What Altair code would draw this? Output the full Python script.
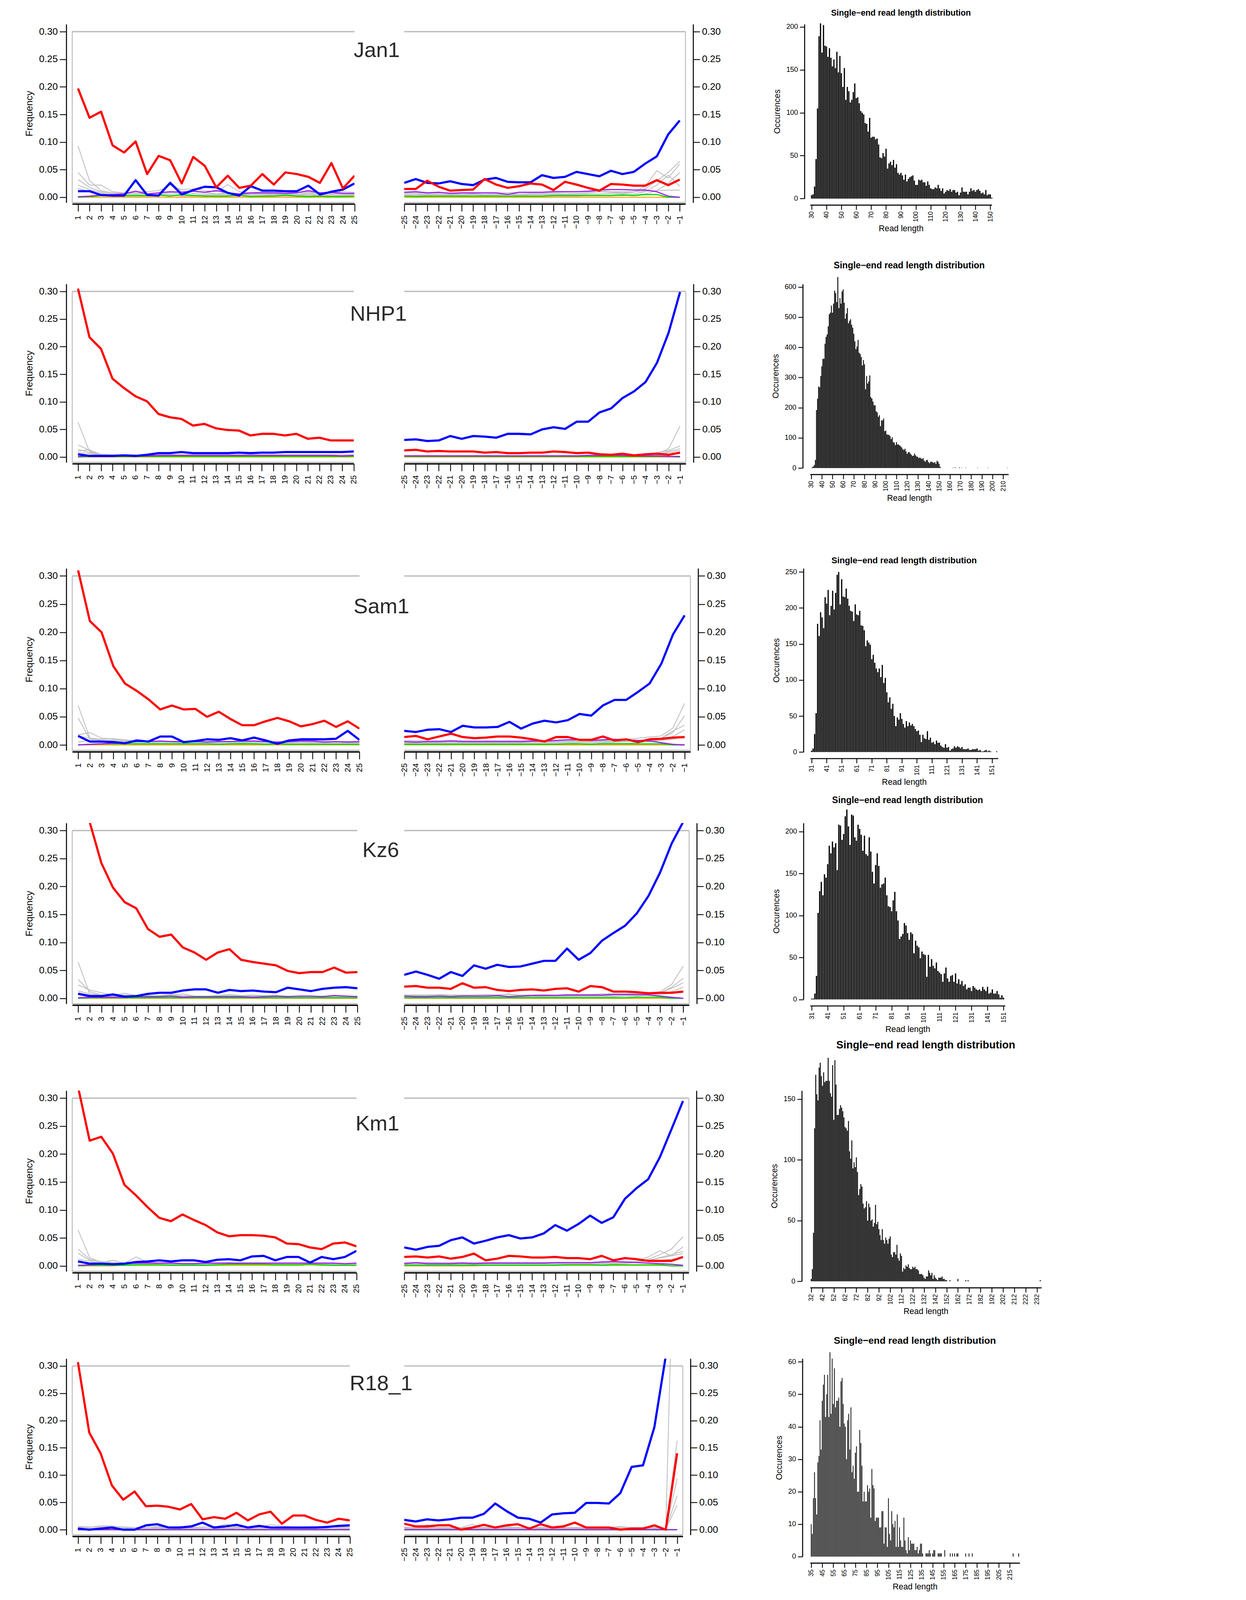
import altair as alt
import pandas as pd

FONT = "Liberation Sans"
RED, BLUE, PURPLE, GREEN, ORANGE, GREY = "#FF0000", "#0000FF", "#A020F0", "#00DD00", "#FFA500", "#BEBEBE"

SAMPLES = ["Jan1", "NHP1", "Sam1", "Kz6", "Km1", "R18_1"]
POS_5P = [1, 2, 3, 4, 5, 6, 7, 8, 9, 10, 11, 12, 13, 14, 15, 16, 17, 18, 19, 20, 21, 22, 23, 24, 25]
POS_3P = [-25, -24, -23, -22, -21, -20, -19, -18, -17, -16, -15, -14, -13, -12, -11, -10, -9, -8, -7, -6, -5, -4, -3, -2, -1]
FREQ_TICKS = [0.0, 0.05, 0.10, 0.15, 0.20, 0.25, 0.30]
HIST_TITLE = "Single\u2212end read length distribution"

ZERO25 = [0.000, 0.000, 0.000, 0.000, 0.000, 0.000, 0.000, 0.000, 0.000, 0.000, 0.000, 0.000, 0.000,
          0.000, 0.000, 0.000, 0.000, 0.000, 0.000, 0.000, 0.000, 0.000, 0.000, 0.000, 0.000]

# ---------------- Jan1 ----------------
JAN1_5P_RED = [0.197, 0.144, 0.155, 0.094, 0.081, 0.101, 0.042, 0.075, 0.067, 0.025, 0.073, 0.057, 0.018,
               0.039, 0.017, 0.021, 0.042, 0.023, 0.045, 0.042, 0.037, 0.026, 0.062, 0.016, 0.039]
JAN1_5P_BLUE = [0.011, 0.011, 0.004, 0.003, 0.003, 0.031, 0.004, 0.003, 0.026, 0.005, 0.013, 0.019, 0.018,
                0.008, 0.003, 0.020, 0.012, 0.012, 0.011, 0.011, 0.021, 0.005, 0.010, 0.014, 0.025]
JAN1_5P_PURPLE = [0.001, 0.002, 0.004, 0.005, 0.006, 0.011, 0.006, 0.008, 0.010, 0.009, 0.011, 0.009, 0.012,
                  0.008, 0.006, 0.008, 0.008, 0.008, 0.007, 0.008, 0.012, 0.008, 0.009, 0.007, 0.007]
JAN1_5P_GREEN = [0.000, 0.001, 0.003, 0.003, 0.003, 0.003, 0.003, 0.004, 0.002, 0.005, 0.003, 0.002, 0.002,
                 0.002, 0.004, 0.001, 0.002, 0.002, 0.004, 0.002, 0.001, 0.002, 0.001, 0.001, 0.002]
JAN1_5P_GREY = [
    [0.093, 0.030, 0.012, 0.008, 0.007, 0.008, 0.006, 0.007, 0.028, 0.010, 0.012, 0.009, 0.006,
     0.008, 0.005, 0.006, 0.007, 0.006, 0.006, 0.005, 0.008, 0.006, 0.007, 0.006, 0.006],
    [0.045, 0.022, 0.022, 0.010, 0.008, 0.010, 0.010, 0.012, 0.022, 0.014, 0.015, 0.012, 0.010,
     0.023, 0.010, 0.008, 0.010, 0.009, 0.010, 0.008, 0.010, 0.007, 0.009, 0.010, 0.009],
    [0.032, 0.018, 0.010, 0.006, 0.005, 0.006, 0.006, 0.005, 0.008, 0.006, 0.007, 0.006, 0.005,
     0.006, 0.004, 0.005, 0.005, 0.005, 0.004, 0.004, 0.006, 0.004, 0.005, 0.004, 0.005],
    [0.022, 0.014, 0.008, 0.004, 0.003, 0.004, 0.004, 0.004, 0.005, 0.003, 0.004, 0.004, 0.003,
     0.004, 0.003, 0.003, 0.003, 0.004, 0.003, 0.003, 0.004, 0.003, 0.003, 0.003, 0.003],
    [0.016, 0.010, 0.006, 0.003, 0.002, 0.002, 0.002, 0.003, 0.003, 0.002, 0.002, 0.003, 0.002,
     0.002, 0.002, 0.002, 0.002, 0.002, 0.002, 0.002, 0.002, 0.002, 0.002, 0.002, 0.002],
]
JAN1_3P_RED = [0.015, 0.015, 0.030, 0.019, 0.012, 0.013, 0.014, 0.033, 0.023, 0.017, 0.020, 0.025, 0.023,
               0.013, 0.028, 0.023, 0.017, 0.012, 0.024, 0.023, 0.021, 0.021, 0.031, 0.022, 0.032]
JAN1_3P_BLUE = [0.026, 0.033, 0.026, 0.025, 0.029, 0.024, 0.022, 0.032, 0.035, 0.028, 0.027, 0.027, 0.040,
                0.035, 0.037, 0.046, 0.042, 0.038, 0.048, 0.042, 0.046, 0.061, 0.074, 0.114, 0.139]
JAN1_3P_PURPLE = [0.009, 0.010, 0.008, 0.009, 0.007, 0.008, 0.008, 0.008, 0.008, 0.005, 0.009, 0.009, 0.009,
                  0.010, 0.010, 0.010, 0.011, 0.013, 0.014, 0.014, 0.013, 0.013, 0.010, 0.002, 0.000]
JAN1_3P_GREEN = [0.002, 0.001, 0.002, 0.002, 0.002, 0.002, 0.002, 0.002, 0.002, 0.002, 0.002, 0.002, 0.002,
                 0.003, 0.003, 0.003, 0.003, 0.003, 0.003, 0.004, 0.003, 0.005, 0.005, 0.000, 0.000]
JAN1_3P_GREY = [
    [0.006, 0.006, 0.005, 0.006, 0.005, 0.006, 0.006, 0.005, 0.006, 0.006, 0.006, 0.006, 0.007,
     0.007, 0.006, 0.007, 0.008, 0.010, 0.009, 0.008, 0.010, 0.015, 0.030, 0.045, 0.065],
    [0.004, 0.004, 0.004, 0.004, 0.004, 0.004, 0.005, 0.004, 0.004, 0.005, 0.004, 0.005, 0.005,
     0.005, 0.005, 0.005, 0.006, 0.006, 0.007, 0.007, 0.009, 0.020, 0.048, 0.035, 0.060],
    [0.003, 0.003, 0.003, 0.003, 0.003, 0.003, 0.003, 0.003, 0.003, 0.003, 0.003, 0.003, 0.003,
     0.004, 0.003, 0.004, 0.004, 0.004, 0.004, 0.005, 0.006, 0.010, 0.022, 0.040, 0.020],
    [0.008, 0.008, 0.007, 0.008, 0.008, 0.008, 0.007, 0.008, 0.008, 0.008, 0.009, 0.008, 0.009,
     0.009, 0.009, 0.010, 0.010, 0.011, 0.010, 0.010, 0.010, 0.011, 0.012, 0.013, 0.013],
    [0.002, 0.002, 0.002, 0.002, 0.002, 0.002, 0.002, 0.002, 0.002, 0.002, 0.002, 0.002, 0.002,
     0.002, 0.002, 0.002, 0.003, 0.003, 0.003, 0.003, 0.004, 0.006, 0.012, 0.025, 0.045],
]

# ---------------- NHP1 ----------------
NHP1_5P_RED = [0.305, 0.217, 0.196, 0.142, 0.125, 0.110, 0.101, 0.078, 0.072, 0.069, 0.057, 0.060, 0.052,
               0.049, 0.048, 0.039, 0.042, 0.042, 0.039, 0.042, 0.033, 0.035, 0.030, 0.030, 0.030]
NHP1_5P_BLUE = [0.005, 0.002, 0.002, 0.002, 0.003, 0.002, 0.004, 0.007, 0.007, 0.009, 0.007, 0.007, 0.007,
                0.007, 0.008, 0.007, 0.008, 0.008, 0.009, 0.009, 0.009, 0.009, 0.009, 0.009, 0.010]
NHP1_5P_PURPLE = [0.001, 0.002, 0.002, 0.002, 0.002, 0.002, 0.002, 0.003, 0.003, 0.003, 0.003, 0.003, 0.003,
                  0.003, 0.003, 0.003, 0.003, 0.003, 0.003, 0.003, 0.003, 0.003, 0.003, 0.002, 0.003]
NHP1_5P_GREEN = [0.000, 0.001, 0.001, 0.001, 0.001, 0.001, 0.001, 0.001, 0.001, 0.001, 0.001, 0.001, 0.001,
                 0.001, 0.001, 0.001, 0.001, 0.001, 0.001, 0.001, 0.001, 0.001, 0.001, 0.001, 0.001]
NHP1_5P_GREY = [
    [0.063, 0.010, 0.004, 0.003, 0.003, 0.003, 0.003, 0.003, 0.003, 0.003, 0.003, 0.003, 0.003,
     0.003, 0.003, 0.003, 0.003, 0.003, 0.003, 0.003, 0.003, 0.003, 0.003, 0.003, 0.003],
    [0.022, 0.012, 0.005, 0.004, 0.004, 0.004, 0.003, 0.004, 0.004, 0.004, 0.004, 0.004, 0.004,
     0.004, 0.004, 0.004, 0.004, 0.004, 0.004, 0.004, 0.004, 0.004, 0.004, 0.004, 0.004],
    [0.014, 0.008, 0.004, 0.003, 0.003, 0.003, 0.003, 0.003, 0.003, 0.003, 0.003, 0.003, 0.003,
     0.003, 0.003, 0.003, 0.003, 0.003, 0.003, 0.003, 0.003, 0.003, 0.003, 0.003, 0.003],
    [0.011, 0.013, 0.004, 0.002, 0.002, 0.002, 0.002, 0.002, 0.002, 0.002, 0.002, 0.002, 0.002,
     0.002, 0.002, 0.002, 0.002, 0.002, 0.002, 0.002, 0.002, 0.002, 0.002, 0.002, 0.002],
    [0.008, 0.006, 0.003, 0.002, 0.002, 0.002, 0.002, 0.002, 0.002, 0.002, 0.002, 0.002, 0.002,
     0.002, 0.002, 0.002, 0.002, 0.002, 0.002, 0.002, 0.002, 0.002, 0.002, 0.002, 0.002],
]
NHP1_3P_RED = [0.012, 0.013, 0.010, 0.011, 0.010, 0.010, 0.010, 0.008, 0.009, 0.007, 0.007, 0.008, 0.008,
               0.010, 0.009, 0.007, 0.008, 0.005, 0.004, 0.006, 0.003, 0.005, 0.006, 0.004, 0.008]
NHP1_3P_BLUE = [0.031, 0.032, 0.029, 0.030, 0.038, 0.033, 0.038, 0.037, 0.035, 0.042, 0.042, 0.041, 0.050,
                0.054, 0.051, 0.064, 0.064, 0.081, 0.088, 0.107, 0.119, 0.136, 0.171, 0.225, 0.299]
NHP1_3P_PURPLE = [0.002, 0.002, 0.002, 0.002, 0.002, 0.002, 0.002, 0.002, 0.002, 0.002, 0.002, 0.002, 0.002,
                  0.002, 0.002, 0.002, 0.003, 0.003, 0.003, 0.003, 0.002, 0.002, 0.002, 0.001, 0.001]
NHP1_3P_GREEN = [0.001, 0.001, 0.001, 0.001, 0.001, 0.001, 0.001, 0.001, 0.001, 0.001, 0.001, 0.001, 0.001,
                 0.001, 0.001, 0.001, 0.001, 0.001, 0.001, 0.001, 0.001, 0.001, 0.001, 0.001, 0.000]
NHP1_3P_GREY = [
    [0.003, 0.003, 0.003, 0.003, 0.003, 0.003, 0.003, 0.003, 0.003, 0.003, 0.003, 0.003, 0.003,
     0.003, 0.003, 0.003, 0.003, 0.003, 0.003, 0.003, 0.003, 0.004, 0.006, 0.015, 0.056],
    [0.002, 0.002, 0.002, 0.002, 0.002, 0.002, 0.002, 0.002, 0.002, 0.002, 0.002, 0.002, 0.002,
     0.002, 0.002, 0.002, 0.002, 0.002, 0.002, 0.002, 0.002, 0.004, 0.008, 0.012, 0.020],
    [0.003, 0.003, 0.003, 0.003, 0.003, 0.003, 0.003, 0.003, 0.003, 0.003, 0.003, 0.003, 0.003,
     0.003, 0.003, 0.003, 0.003, 0.003, 0.003, 0.003, 0.003, 0.004, 0.005, 0.010, 0.015],
    [0.002, 0.002, 0.002, 0.002, 0.002, 0.002, 0.002, 0.002, 0.002, 0.002, 0.002, 0.002, 0.002,
     0.002, 0.002, 0.002, 0.002, 0.002, 0.002, 0.002, 0.002, 0.003, 0.004, 0.008, 0.012],
    [0.001, 0.001, 0.001, 0.001, 0.001, 0.001, 0.001, 0.001, 0.001, 0.001, 0.001, 0.001, 0.001,
     0.001, 0.001, 0.001, 0.001, 0.001, 0.001, 0.001, 0.001, 0.002, 0.003, 0.005, 0.008],
]

# ---------------- Sam1 ----------------
SAM1_5P_RED = [0.310, 0.220, 0.200, 0.140, 0.109, 0.096, 0.081, 0.063, 0.070, 0.063, 0.064, 0.050, 0.059,
               0.046, 0.035, 0.035, 0.042, 0.048, 0.042, 0.033, 0.037, 0.043, 0.032, 0.042, 0.029]
SAM1_5P_BLUE = [0.016, 0.006, 0.006, 0.005, 0.003, 0.008, 0.006, 0.015, 0.015, 0.005, 0.007, 0.010, 0.009,
                0.012, 0.008, 0.013, 0.008, 0.002, 0.008, 0.010, 0.010, 0.010, 0.011, 0.025, 0.009]
SAM1_5P_PURPLE = [0.000, 0.001, 0.002, 0.003, 0.004, 0.006, 0.006, 0.007, 0.006, 0.006, 0.006, 0.005, 0.006,
                  0.006, 0.007, 0.007, 0.006, 0.005, 0.006, 0.007, 0.007, 0.005, 0.006, 0.005, 0.006]
SAM1_5P_GREEN = [0.000, 0.001, 0.002, 0.002, 0.002, 0.002, 0.002, 0.002, 0.002, 0.002, 0.002, 0.002, 0.001,
                 0.002, 0.002, 0.002, 0.001, 0.002, 0.001, 0.001, 0.001, 0.001, 0.001, 0.001, 0.001]
SAM1_5P_GREY = [
    [0.070, 0.012, 0.008, 0.008, 0.006, 0.006, 0.005, 0.005, 0.005, 0.004, 0.005, 0.005, 0.005,
     0.005, 0.004, 0.005, 0.005, 0.004, 0.004, 0.005, 0.004, 0.004, 0.005, 0.004, 0.004],
    [0.048, 0.010, 0.008, 0.007, 0.006, 0.005, 0.006, 0.006, 0.005, 0.006, 0.005, 0.006, 0.005,
     0.005, 0.006, 0.005, 0.005, 0.005, 0.005, 0.005, 0.005, 0.006, 0.005, 0.005, 0.005],
    [0.018, 0.022, 0.012, 0.010, 0.008, 0.006, 0.006, 0.006, 0.006, 0.005, 0.006, 0.006, 0.005,
     0.006, 0.005, 0.006, 0.005, 0.005, 0.006, 0.005, 0.006, 0.005, 0.006, 0.005, 0.005],
    [0.016, 0.012, 0.010, 0.011, 0.009, 0.007, 0.007, 0.006, 0.006, 0.006, 0.007, 0.006, 0.006,
     0.006, 0.006, 0.006, 0.006, 0.005, 0.006, 0.006, 0.006, 0.006, 0.006, 0.006, 0.006],
    [0.005, 0.008, 0.006, 0.004, 0.003, 0.003, 0.003, 0.003, 0.003, 0.003, 0.003, 0.003, 0.003,
     0.003, 0.003, 0.003, 0.003, 0.003, 0.003, 0.003, 0.003, 0.003, 0.003, 0.003, 0.003],
]
SAM1_3P_RED = [0.014, 0.016, 0.010, 0.015, 0.020, 0.014, 0.012, 0.013, 0.015, 0.015, 0.013, 0.010, 0.006,
               0.014, 0.014, 0.009, 0.009, 0.015, 0.008, 0.010, 0.005, 0.010, 0.011, 0.013, 0.014]
SAM1_3P_BLUE = [0.025, 0.023, 0.027, 0.028, 0.023, 0.034, 0.031, 0.031, 0.032, 0.041, 0.029, 0.038, 0.043,
                0.040, 0.044, 0.055, 0.052, 0.070, 0.080, 0.080, 0.094, 0.109, 0.144, 0.196, 0.230]
SAM1_3P_PURPLE = [0.006, 0.005, 0.006, 0.006, 0.007, 0.006, 0.006, 0.006, 0.006, 0.006, 0.006, 0.007, 0.007,
                  0.008, 0.009, 0.009, 0.008, 0.009, 0.010, 0.009, 0.008, 0.007, 0.004, 0.001, 0.000]
SAM1_3P_GREEN = [0.001, 0.001, 0.001, 0.001, 0.001, 0.001, 0.001, 0.001, 0.001, 0.001, 0.001, 0.001, 0.001,
                 0.001, 0.002, 0.002, 0.001, 0.002, 0.002, 0.002, 0.002, 0.002, 0.002, 0.000, 0.000]
SAM1_3P_GREY = [
    [0.004, 0.004, 0.004, 0.004, 0.004, 0.004, 0.004, 0.004, 0.004, 0.004, 0.004, 0.005, 0.005,
     0.005, 0.005, 0.006, 0.006, 0.007, 0.008, 0.010, 0.012, 0.014, 0.016, 0.030, 0.074],
    [0.003, 0.003, 0.003, 0.003, 0.003, 0.003, 0.003, 0.003, 0.003, 0.003, 0.003, 0.003, 0.003,
     0.003, 0.003, 0.004, 0.004, 0.004, 0.005, 0.006, 0.008, 0.010, 0.012, 0.022, 0.052],
    [0.006, 0.006, 0.006, 0.006, 0.006, 0.006, 0.006, 0.006, 0.006, 0.006, 0.006, 0.006, 0.006,
     0.006, 0.006, 0.006, 0.006, 0.006, 0.006, 0.007, 0.008, 0.010, 0.012, 0.025, 0.035],
    [0.002, 0.002, 0.002, 0.002, 0.002, 0.002, 0.002, 0.002, 0.002, 0.002, 0.002, 0.002, 0.002,
     0.002, 0.002, 0.002, 0.002, 0.003, 0.003, 0.003, 0.004, 0.006, 0.008, 0.015, 0.027],
    [0.008, 0.008, 0.008, 0.008, 0.008, 0.008, 0.008, 0.008, 0.008, 0.008, 0.008, 0.008, 0.008,
     0.008, 0.008, 0.008, 0.008, 0.008, 0.008, 0.008, 0.008, 0.008, 0.008, 0.010, 0.015],
]

# ---------------- Kz6 ----------------
KZ6_5P_RED = [0.380, 0.315, 0.242, 0.198, 0.172, 0.161, 0.124, 0.110, 0.114, 0.091, 0.082, 0.069, 0.082,
              0.088, 0.069, 0.065, 0.062, 0.059, 0.049, 0.045, 0.047, 0.047, 0.055, 0.046, 0.047]
KZ6_5P_BLUE = [0.008, 0.004, 0.004, 0.007, 0.003, 0.004, 0.008, 0.010, 0.010, 0.014, 0.016, 0.016, 0.010,
               0.015, 0.013, 0.014, 0.012, 0.011, 0.019, 0.016, 0.013, 0.017, 0.019, 0.020, 0.018]
KZ6_5P_PURPLE = [0.001, 0.002, 0.002, 0.002, 0.002, 0.003, 0.003, 0.003, 0.004, 0.002, 0.003, 0.003, 0.003,
                 0.003, 0.003, 0.002, 0.003, 0.004, 0.003, 0.004, 0.004, 0.003, 0.005, 0.004, 0.003]
KZ6_5P_GREEN = [0.000, 0.001, 0.001, 0.001, 0.001, 0.001, 0.001, 0.001, 0.001, 0.001, 0.001, 0.001, 0.001,
                0.001, 0.001, 0.001, 0.001, 0.001, 0.001, 0.001, 0.001, 0.001, 0.001, 0.001, 0.001]
KZ6_5P_GREY = [
    [0.065, 0.008, 0.006, 0.005, 0.005, 0.004, 0.004, 0.004, 0.004, 0.004, 0.004, 0.004, 0.004,
     0.004, 0.004, 0.004, 0.004, 0.004, 0.004, 0.004, 0.004, 0.004, 0.004, 0.004, 0.004],
    [0.034, 0.012, 0.006, 0.005, 0.006, 0.005, 0.005, 0.005, 0.007, 0.008, 0.004, 0.003, 0.004,
     0.005, 0.004, 0.004, 0.004, 0.004, 0.004, 0.004, 0.004, 0.004, 0.004, 0.004, 0.004],
    [0.024, 0.015, 0.010, 0.006, 0.009, 0.005, 0.004, 0.005, 0.006, 0.005, 0.004, 0.004, 0.005,
     0.007, 0.005, 0.006, 0.005, 0.005, 0.004, 0.004, 0.004, 0.004, 0.004, 0.004, 0.004],
    [0.013, 0.008, 0.005, 0.004, 0.004, 0.003, 0.003, 0.003, 0.003, 0.003, 0.003, 0.003, 0.003,
     0.003, 0.003, 0.003, 0.003, 0.003, 0.003, 0.003, 0.003, 0.003, 0.003, 0.003, 0.003],
    [0.010, 0.006, 0.004, 0.003, 0.002, 0.002, 0.002, 0.002, 0.002, 0.002, 0.002, 0.002, 0.002,
     0.002, 0.002, 0.002, 0.002, 0.002, 0.002, 0.002, 0.002, 0.002, 0.002, 0.002, 0.002],
]
KZ6_3P_RED = [0.021, 0.022, 0.019, 0.019, 0.017, 0.027, 0.019, 0.020, 0.015, 0.013, 0.015, 0.016, 0.014,
              0.017, 0.018, 0.012, 0.022, 0.020, 0.012, 0.012, 0.011, 0.009, 0.010, 0.010, 0.012]
KZ6_3P_BLUE = [0.042, 0.048, 0.042, 0.035, 0.047, 0.040, 0.059, 0.053, 0.060, 0.056, 0.057, 0.062, 0.067,
               0.067, 0.089, 0.069, 0.081, 0.103, 0.117, 0.130, 0.152, 0.183, 0.225, 0.277, 0.316]
KZ6_3P_PURPLE = [0.004, 0.003, 0.003, 0.004, 0.003, 0.004, 0.004, 0.004, 0.005, 0.003, 0.004, 0.005, 0.005,
                 0.005, 0.006, 0.006, 0.006, 0.006, 0.007, 0.007, 0.007, 0.006, 0.004, 0.002, 0.000]
KZ6_3P_GREEN = [0.001, 0.001, 0.001, 0.001, 0.001, 0.001, 0.001, 0.001, 0.001, 0.001, 0.001, 0.001, 0.001,
                0.001, 0.001, 0.001, 0.001, 0.001, 0.001, 0.001, 0.002, 0.002, 0.002, 0.000, 0.000]
KZ6_3P_GREY = [
    [0.004, 0.004, 0.005, 0.004, 0.004, 0.005, 0.004, 0.005, 0.004, 0.004, 0.005, 0.004, 0.005,
     0.005, 0.004, 0.005, 0.005, 0.005, 0.006, 0.006, 0.006, 0.008, 0.012, 0.025, 0.058],
    [0.002, 0.002, 0.002, 0.002, 0.002, 0.003, 0.002, 0.002, 0.002, 0.003, 0.002, 0.002, 0.003,
     0.002, 0.003, 0.003, 0.003, 0.003, 0.003, 0.004, 0.004, 0.006, 0.010, 0.020, 0.036],
    [0.006, 0.006, 0.006, 0.007, 0.006, 0.006, 0.006, 0.007, 0.006, 0.007, 0.006, 0.006, 0.007,
     0.006, 0.007, 0.007, 0.007, 0.008, 0.008, 0.008, 0.008, 0.009, 0.010, 0.018, 0.028],
    [0.003, 0.003, 0.003, 0.003, 0.003, 0.003, 0.003, 0.004, 0.003, 0.003, 0.003, 0.004, 0.003,
     0.003, 0.003, 0.004, 0.004, 0.004, 0.004, 0.004, 0.005, 0.006, 0.008, 0.012, 0.020],
    [0.005, 0.005, 0.005, 0.005, 0.006, 0.005, 0.005, 0.005, 0.006, 0.008, 0.005, 0.005, 0.005,
     0.005, 0.005, 0.005, 0.006, 0.006, 0.006, 0.006, 0.006, 0.006, 0.007, 0.009, 0.012],
]

# ---------------- Km1 ----------------
KM1_5P_RED = [0.320, 0.224, 0.231, 0.201, 0.145, 0.126, 0.105, 0.086, 0.080, 0.092, 0.082, 0.073, 0.060,
              0.053, 0.055, 0.055, 0.054, 0.051, 0.040, 0.039, 0.033, 0.030, 0.040, 0.042, 0.035]
KM1_5P_BLUE = [0.008, 0.004, 0.004, 0.003, 0.004, 0.007, 0.008, 0.010, 0.008, 0.010, 0.010, 0.007, 0.011,
               0.012, 0.010, 0.017, 0.018, 0.010, 0.016, 0.016, 0.006, 0.016, 0.012, 0.016, 0.027]
KM1_5P_PURPLE = [0.001, 0.002, 0.003, 0.003, 0.004, 0.005, 0.005, 0.005, 0.005, 0.004, 0.004, 0.005, 0.005,
                 0.005, 0.005, 0.005, 0.005, 0.005, 0.005, 0.005, 0.005, 0.005, 0.005, 0.004, 0.005]
KM1_5P_GREEN = [0.000, 0.001, 0.001, 0.001, 0.001, 0.002, 0.002, 0.002, 0.001, 0.001, 0.001, 0.001, 0.002,
                0.003, 0.003, 0.003, 0.003, 0.002, 0.002, 0.002, 0.003, 0.002, 0.001, 0.001, 0.001]
KM1_5P_ORANGE = [0.000, 0.000, 0.000, 0.000, 0.001, 0.001, 0.001, 0.001, 0.001, 0.001, 0.001, 0.001, 0.001,
                 0.001, 0.001, 0.001, 0.001, 0.001, 0.001, 0.001, 0.002, 0.001, 0.001, 0.001, 0.001]
KM1_5P_GREY = [
    [0.064, 0.015, 0.006, 0.005, 0.005, 0.004, 0.004, 0.004, 0.004, 0.004, 0.004, 0.004, 0.004,
     0.004, 0.004, 0.004, 0.004, 0.004, 0.004, 0.004, 0.004, 0.004, 0.004, 0.004, 0.004],
    [0.030, 0.012, 0.006, 0.010, 0.005, 0.016, 0.006, 0.005, 0.005, 0.004, 0.004, 0.004, 0.004,
     0.006, 0.004, 0.004, 0.004, 0.004, 0.004, 0.005, 0.004, 0.005, 0.004, 0.004, 0.004],
    [0.023, 0.010, 0.008, 0.006, 0.004, 0.004, 0.004, 0.004, 0.004, 0.004, 0.004, 0.004, 0.004,
     0.004, 0.004, 0.004, 0.004, 0.004, 0.004, 0.004, 0.004, 0.004, 0.004, 0.004, 0.004],
    [0.012, 0.008, 0.005, 0.004, 0.003, 0.003, 0.003, 0.003, 0.003, 0.003, 0.003, 0.003, 0.003,
     0.003, 0.003, 0.003, 0.003, 0.003, 0.003, 0.003, 0.003, 0.003, 0.003, 0.003, 0.003],
    [0.008, 0.005, 0.003, 0.002, 0.002, 0.002, 0.002, 0.002, 0.002, 0.002, 0.002, 0.002, 0.002,
     0.002, 0.002, 0.002, 0.002, 0.002, 0.002, 0.002, 0.002, 0.002, 0.002, 0.002, 0.002],
]
KM1_3P_RED = [0.016, 0.017, 0.015, 0.017, 0.013, 0.016, 0.022, 0.010, 0.013, 0.018, 0.017, 0.015, 0.015,
              0.016, 0.014, 0.014, 0.012, 0.018, 0.010, 0.014, 0.012, 0.009, 0.009, 0.009, 0.016]
KM1_3P_BLUE = [0.033, 0.029, 0.034, 0.036, 0.046, 0.051, 0.040, 0.045, 0.051, 0.055, 0.049, 0.051, 0.058,
               0.073, 0.063, 0.075, 0.090, 0.077, 0.087, 0.120, 0.139, 0.155, 0.194, 0.244, 0.295]
KM1_3P_PURPLE = [0.004, 0.006, 0.004, 0.004, 0.004, 0.005, 0.004, 0.005, 0.005, 0.005, 0.005, 0.005, 0.005,
                 0.006, 0.006, 0.006, 0.006, 0.007, 0.008, 0.007, 0.006, 0.005, 0.004, 0.003, 0.001]
KM1_3P_GREEN = [0.001, 0.001, 0.001, 0.001, 0.001, 0.001, 0.001, 0.001, 0.001, 0.001, 0.001, 0.001, 0.001,
                0.001, 0.002, 0.002, 0.002, 0.001, 0.002, 0.002, 0.002, 0.002, 0.002, 0.000, 0.000]
KM1_3P_ORANGE = [0.000, 0.000, 0.000, 0.000, 0.000, 0.000, 0.000, 0.001, 0.001, 0.001, 0.001, 0.001, 0.001,
                 0.001, 0.001, 0.001, 0.001, 0.001, 0.001, 0.001, 0.001, 0.001, 0.001, 0.000, 0.000]
KM1_3P_GREY = [
    [0.004, 0.004, 0.004, 0.004, 0.004, 0.004, 0.004, 0.004, 0.004, 0.004, 0.004, 0.004, 0.004,
     0.004, 0.004, 0.004, 0.004, 0.005, 0.005, 0.006, 0.008, 0.012, 0.020, 0.030, 0.052],
    [0.003, 0.003, 0.003, 0.003, 0.003, 0.003, 0.003, 0.003, 0.003, 0.003, 0.003, 0.003, 0.003,
     0.003, 0.003, 0.003, 0.003, 0.004, 0.004, 0.005, 0.008, 0.016, 0.027, 0.018, 0.034],
    [0.005, 0.005, 0.005, 0.005, 0.005, 0.005, 0.005, 0.005, 0.005, 0.005, 0.005, 0.005, 0.005,
     0.005, 0.005, 0.005, 0.005, 0.006, 0.006, 0.007, 0.008, 0.010, 0.015, 0.020, 0.026],
    [0.002, 0.002, 0.002, 0.002, 0.002, 0.002, 0.002, 0.002, 0.002, 0.002, 0.002, 0.002, 0.002,
     0.002, 0.002, 0.002, 0.002, 0.003, 0.003, 0.004, 0.006, 0.010, 0.014, 0.018, 0.022],
    [0.006, 0.006, 0.006, 0.006, 0.006, 0.006, 0.006, 0.006, 0.006, 0.006, 0.006, 0.006, 0.006,
     0.006, 0.006, 0.006, 0.006, 0.006, 0.006, 0.007, 0.007, 0.008, 0.010, 0.012, 0.015],
]

# ---------------- R18_1 ----------------
R18_5P_RED = [0.307, 0.178, 0.140, 0.081, 0.055, 0.070, 0.043, 0.044, 0.042, 0.037, 0.047, 0.019, 0.023,
              0.020, 0.031, 0.017, 0.028, 0.033, 0.011, 0.026, 0.026, 0.018, 0.013, 0.020, 0.017]
R18_5P_BLUE = [0.002, 0.000, 0.002, 0.004, 0.000, 0.000, 0.008, 0.010, 0.004, 0.004, 0.006, 0.013, 0.004,
               0.006, 0.009, 0.004, 0.007, 0.004, 0.004, 0.004, 0.004, 0.004, 0.005, 0.007, 0.008]
R18_5P_GREY = [
    [0.004, 0.004, 0.007, 0.007, 0.004, 0.002, 0.004, 0.006, 0.004, 0.005, 0.004, 0.005, 0.004,
     0.010, 0.005, 0.004, 0.004, 0.009, 0.007, 0.005, 0.005, 0.006, 0.004, 0.005, 0.005],
    [0.002, 0.002, 0.003, 0.003, 0.002, 0.002, 0.002, 0.003, 0.003, 0.002, 0.003, 0.002, 0.002,
     0.003, 0.003, 0.002, 0.003, 0.003, 0.002, 0.002, 0.002, 0.003, 0.002, 0.002, 0.002],
    [0.006, 0.005, 0.005, 0.006, 0.005, 0.004, 0.005, 0.004, 0.005, 0.006, 0.005, 0.004, 0.006,
     0.005, 0.004, 0.005, 0.006, 0.005, 0.004, 0.005, 0.004, 0.005, 0.005, 0.004, 0.004],
    [0.001, 0.001, 0.002, 0.001, 0.001, 0.001, 0.001, 0.002, 0.001, 0.001, 0.001, 0.001, 0.001,
     0.002, 0.001, 0.001, 0.001, 0.001, 0.001, 0.001, 0.001, 0.001, 0.001, 0.001, 0.001],
]
R18_3P_RED = [0.011, 0.006, 0.006, 0.008, 0.008, 0.000, 0.004, 0.009, 0.004, 0.008, 0.010, 0.002, 0.010,
              0.004, 0.006, 0.013, 0.004, 0.004, 0.004, 0.000, 0.002, 0.002, 0.008, 0.000, 0.140]
R18_3P_BLUE = [0.018, 0.015, 0.019, 0.017, 0.019, 0.022, 0.022, 0.029, 0.048, 0.034, 0.022, 0.020, 0.013,
               0.028, 0.030, 0.031, 0.049, 0.049, 0.048, 0.067, 0.115, 0.118, 0.188, 0.318, 0.450]
R18_3P_GREY = [
    [0.005, 0.002, 0.009, 0.002, 0.003, 0.004, 0.010, 0.002, 0.004, 0.006, 0.003, 0.004, 0.003,
     0.004, 0.003, 0.004, 0.003, 0.003, 0.004, 0.006, 0.003, 0.004, 0.003, 0.002, 0.780],
    [0.003, 0.004, 0.003, 0.004, 0.002, 0.003, 0.003, 0.004, 0.003, 0.003, 0.004, 0.003, 0.003,
     0.003, 0.002, 0.003, 0.003, 0.003, 0.003, 0.003, 0.003, 0.003, 0.003, 0.002, 0.163],
    [0.002, 0.002, 0.002, 0.003, 0.002, 0.002, 0.002, 0.002, 0.002, 0.002, 0.003, 0.002, 0.002,
     0.002, 0.002, 0.002, 0.002, 0.002, 0.002, 0.002, 0.002, 0.002, 0.002, 0.001, 0.093],
    [0.004, 0.004, 0.004, 0.004, 0.004, 0.004, 0.004, 0.004, 0.004, 0.004, 0.004, 0.004, 0.004,
     0.004, 0.004, 0.004, 0.004, 0.004, 0.004, 0.005, 0.004, 0.004, 0.004, 0.001, 0.062],
    [0.001, 0.001, 0.001, 0.001, 0.001, 0.001, 0.001, 0.001, 0.001, 0.001, 0.001, 0.001, 0.001,
     0.001, 0.001, 0.001, 0.001, 0.001, 0.001, 0.001, 0.001, 0.001, 0.001, 0.001, 0.045],
]

SERIES = {
    "Jan1": {"5p": dict(red=JAN1_5P_RED, blue=JAN1_5P_BLUE, purple=JAN1_5P_PURPLE, green=JAN1_5P_GREEN, orange=ZERO25, grey=JAN1_5P_GREY),
             "3p": dict(red=JAN1_3P_RED, blue=JAN1_3P_BLUE, purple=JAN1_3P_PURPLE, green=JAN1_3P_GREEN, orange=ZERO25, grey=JAN1_3P_GREY)},
    "NHP1": {"5p": dict(red=NHP1_5P_RED, blue=NHP1_5P_BLUE, purple=NHP1_5P_PURPLE, green=NHP1_5P_GREEN, orange=ZERO25, grey=NHP1_5P_GREY),
             "3p": dict(red=NHP1_3P_RED, blue=NHP1_3P_BLUE, purple=NHP1_3P_PURPLE, green=NHP1_3P_GREEN, orange=ZERO25, grey=NHP1_3P_GREY)},
    "Sam1": {"5p": dict(red=SAM1_5P_RED, blue=SAM1_5P_BLUE, purple=SAM1_5P_PURPLE, green=SAM1_5P_GREEN, orange=ZERO25, grey=SAM1_5P_GREY),
             "3p": dict(red=SAM1_3P_RED, blue=SAM1_3P_BLUE, purple=SAM1_3P_PURPLE, green=SAM1_3P_GREEN, orange=ZERO25, grey=SAM1_3P_GREY)},
    "Kz6": {"5p": dict(red=KZ6_5P_RED, blue=KZ6_5P_BLUE, purple=KZ6_5P_PURPLE, green=KZ6_5P_GREEN, orange=ZERO25, grey=KZ6_5P_GREY),
            "3p": dict(red=KZ6_3P_RED, blue=KZ6_3P_BLUE, purple=KZ6_3P_PURPLE, green=KZ6_3P_GREEN, orange=ZERO25, grey=KZ6_3P_GREY)},
    "Km1": {"5p": dict(red=KM1_5P_RED, blue=KM1_5P_BLUE, purple=KM1_5P_PURPLE, green=KM1_5P_GREEN, orange=KM1_5P_ORANGE, grey=KM1_5P_GREY),
            "3p": dict(red=KM1_3P_RED, blue=KM1_3P_BLUE, purple=KM1_3P_PURPLE, green=KM1_3P_GREEN, orange=KM1_3P_ORANGE, grey=KM1_3P_GREY)},
    "R18_1": {"5p": dict(red=R18_5P_RED, blue=R18_5P_BLUE, purple=ZERO25, green=ZERO25, orange=ZERO25, grey=R18_5P_GREY),
              "3p": dict(red=R18_3P_RED, blue=R18_3P_BLUE, purple=ZERO25, green=ZERO25, orange=ZERO25, grey=R18_3P_GREY)},
}

# ---------------- read length histograms ----------------
JAN1_LEN_START = 30
JAN1_COUNTS = [4, 5, 14, 46, 105, 189, 204, 170, 202, 178, 177, 165, 175, 164, 154, 162, 152, 171, 147, 166,
               146, 130, 152, 115, 130, 125, 112, 115, 124, 134, 117, 118, 111, 102, 100, 98, 88, 87, 78, 94,
               71, 72, 72, 69, 70, 63, 48, 47, 53, 49, 58, 35, 41, 43, 39, 45, 36, 40, 30, 28,
               30, 27, 22, 28, 20, 23, 25, 26, 27, 21, 16, 16, 22, 21, 22, 19, 19, 15, 20, 16,
               12, 11, 11, 13, 12, 16, 12, 9, 12, 6, 8, 10, 9, 11, 8, 10, 10, 7, 8, 4,
               7, 13, 8, 8, 8, 5, 8, 12, 9, 10, 8, 10, 11, 9, 6, 7, 5, 10, 4, 5, 5, 1]
JAN1_SPARSE_LEN, JAN1_SPARSE_CNT = [], []

NHP1_LEN_START = 31
NHP1_COUNTS = [3, 5, 10, 27, 192, 230, 270, 268, 305, 337, 362, 362, 412, 435, 443, 470, 510, 515, 538, 515,
               545, 588, 580, 550, 633, 530, 563, 545, 585, 592, 548, 495, 512, 530, 480, 488, 493, 475, 465, 445,
               420, 394, 403, 425, 382, 378, 368, 340, 358, 344, 261, 305, 280, 287, 307, 235, 230, 220, 208, 208,
               188, 184, 170, 175, 139, 158, 158, 164, 122, 124, 112, 110, 110, 106, 96, 102, 86, 84, 76, 86,
               78, 78, 75, 72, 68, 62, 60, 64, 55, 47, 52, 53, 48, 44, 40, 41, 48, 42, 38, 37,
               33, 35, 32, 30, 33, 25, 21, 26, 27, 20, 16, 21, 21, 19, 17, 20, 14, 24, 21, 14, 4]
NHP1_SPARSE_LEN = [163, 165, 169, 171, 175, 186, 196, 214]
NHP1_SPARSE_CNT = [1, 2, 2, 1, 1, 1, 1, 1]

SAM1_LEN_START = 31
SAM1_COUNTS = [2, 5, 25, 54, 178, 161, 194, 187, 172, 215, 206, 225, 190, 203, 224, 198, 221, 246, 250, 205,
               240, 216, 215, 227, 213, 203, 196, 195, 182, 205, 191, 190, 196, 176, 175, 169, 147, 155, 152, 149,
               129, 135, 124, 116, 111, 116, 104, 121, 96, 103, 83, 69, 76, 60, 67, 50, 36, 48, 45, 54,
               46, 39, 34, 43, 36, 41, 37, 39, 36, 32, 29, 30, 24, 14, 24, 19, 18, 29, 17, 20,
               13, 14, 11, 16, 13, 13, 9, 7, 6, 11, 6, 7, 2, 4, 5, 8, 6, 8, 7, 5,
               7, 4, 4, 4, 5, 3, 3, 4, 4, 4, 5, 2, 3, 1, 1, 2, 3, 1, 2, 1]
SAM1_SPARSE_LEN, SAM1_SPARSE_CNT = [154], [1]

KZ6_LEN_START = 31
KZ6_COUNTS = [1, 1, 7, 28, 103, 129, 140, 124, 149, 145, 161, 183, 174, 188, 181, 186, 154, 208, 207, 190,
              197, 218, 226, 206, 184, 220, 219, 193, 189, 208, 203, 196, 177, 195, 173, 171, 193, 176, 152, 138,
              160, 174, 159, 133, 137, 138, 145, 124, 111, 110, 105, 118, 128, 105, 94, 72, 75, 78, 91, 88,
              79, 71, 80, 78, 55, 70, 64, 62, 49, 57, 54, 53, 27, 53, 39, 48, 40, 37, 44, 34,
              32, 30, 21, 31, 38, 25, 21, 28, 29, 21, 31, 19, 24, 18, 22, 16, 18, 12, 14, 14,
              10, 16, 14, 12, 11, 12, 10, 15, 12, 10, 15, 7, 8, 12, 7, 7, 10, 6, 2, 5, 2]
KZ6_SPARSE_LEN, KZ6_SPARSE_CNT = [], []

KM1_LEN_START = 32
KM1_COUNTS = [2, 10, 40, 126, 170, 154, 149, 176, 180, 169, 161, 172, 164, 165, 165, 184, 165, 155, 152, 178,
              133, 182, 162, 137, 137, 142, 145, 143, 140, 135, 127, 126, 124, 132, 107, 101, 116, 93, 98, 94,
              102, 90, 71, 76, 80, 78, 64, 60, 61, 66, 50, 64, 61, 50, 51, 45, 48, 63, 47, 49,
              43, 38, 34, 43, 34, 31, 36, 34, 31, 35, 37, 22, 20, 24, 24, 22, 30, 19, 17, 23,
              21, 8, 11, 10, 13, 12, 14, 11, 10, 10, 12, 11, 12, 10, 10, 9, 6, 6, 6, 5,
              3, 2, 4, 4, 9, 7, 5, 7, 2, 5, 3, 2, 1, 3, 3, 3, 4, 2, 2, 1, 1]
KM1_SPARSE_LEN = [155, 162, 169, 171, 235]
KM1_SPARSE_CNT = [1, 2, 1, 1, 1]

R18_LEN_START = 35
R18_COUNTS = [10, 7, 18, 26, 18, 13, 29, 31, 42, 33, 48, 53, 56, 43, 50, 56, 43, 63, 44, 61,
              47, 58, 46, 48, 48, 49, 40, 54, 55, 47, 41, 40, 30, 42, 44, 33, 46, 26, 28, 24,
              32, 34, 20, 20, 39, 35, 28, 17, 20, 17, 17, 22, 20, 21, 12, 27, 22, 21, 11, 12,
              12, 12, 9, 9, 14, 14, 4, 9, 9, 3, 18, 7, 5, 14, 10, 9, 11, 3, 13, 3,
              9, 5, 3, 3, 12, 5, 2, 1, 6, 2, 5, 4, 4, 4, 2, 2, 3, 1, 2, 4, 4, 1]
R18_SPARSE_LEN = [139, 140, 141, 142, 143, 145, 146, 147, 150, 151, 152, 153, 156, 161, 163, 165, 167, 168, 175, 178, 181, 218, 223]
R18_SPARSE_CNT = [1, 1, 1, 2, 1, 1, 2, 2, 1, 1, 1, 1, 2, 1, 1, 1, 1, 1, 1, 1, 1, 1, 1]

HIST = {
    "Jan1": (JAN1_LEN_START, JAN1_COUNTS, JAN1_SPARSE_LEN, JAN1_SPARSE_CNT),
    "NHP1": (NHP1_LEN_START, NHP1_COUNTS, NHP1_SPARSE_LEN, NHP1_SPARSE_CNT),
    "Sam1": (SAM1_LEN_START, SAM1_COUNTS, SAM1_SPARSE_LEN, SAM1_SPARSE_CNT),
    "Kz6": (KZ6_LEN_START, KZ6_COUNTS, KZ6_SPARSE_LEN, KZ6_SPARSE_CNT),
    "Km1": (KM1_LEN_START, KM1_COUNTS, KM1_SPARSE_LEN, KM1_SPARSE_CNT),
    "R18_1": (R18_LEN_START, R18_COUNTS, R18_SPARSE_LEN, R18_SPARSE_CNT),
}
HIST_XTICKS = [
    [30, 40, 50, 60, 70, 80, 90, 100, 110, 120, 130, 140, 150],
    [30, 40, 50, 60, 70, 80, 90, 100, 110, 120, 130, 140, 150, 160, 170, 180, 190, 200, 210],
    [31, 41, 51, 61, 71, 81, 91, 101, 111, 121, 131, 141, 151],
    [31, 41, 51, 61, 71, 81, 91, 101, 111, 121, 131, 141, 151],
    [32, 42, 52, 62, 72, 82, 92, 102, 112, 122, 132, 142, 152, 162, 172, 182, 192, 202, 212, 222, 232],
    [35, 45, 55, 65, 75, 85, 95, 105, 115, 125, 135, 145, 155, 165, 175, 185, 195, 205, 215],
]
HIST_YTICKS = [
    [0, 50, 100, 150, 200],
    [0, 100, 200, 300, 400, 500, 600],
    [0, 50, 100, 150, 200, 250],
    [0, 50, 100, 150, 200],
    [0, 50, 100, 150],
    [0, 10, 20, 30, 40, 50, 60],
]

# ---------------- layout (reference pixels, scaled by S to fit the captured area) ----------------
S = 0.852
X0 = 25
Y_LO, Y_HI = -0.0097, 0.3135
LEFT_X = [215, 231, 164, 170, 213, 229]
LEFT_W = [848, 846, 863, 857, 854, 834]
GAP = [148, 150, 152, 152, 151, 148]
RIGHT_W = [845, 846, 860, 856, 855, 837]
LINE_H = [536, 536, 547, 543, 543, 530]
ROW_STEP = [780, 854, 765, 803, 804, 705]
LABEL_DX = [915, 920, 929, 927, 917, 928]
LABEL_BASE = [98, 110, 135, 102, 120, 95]
HIST_LEFT = [2431, 2436, 2434, 2434, 2441, 2446]
HIST_W = [546, 596, 565, 586, 695, 630]
HIST_H = [524, 553, 552, 530, 573, 595]
HIST_YTOP = [203, 610, 255, 210, 157, 61]
HIST_XDOM = [[29, 151], [29, 215], [30, 155], [30, 152], [31, 236], [34, 224]]
HIST_YOFF = [17, 22, 20, 20, 25, 23]
HIST_BAR_W = [3.6, 2.6, 3.6, 3.8, 2.7, 2.2]
HIST_TITLE_SIZE = [25, 27, 26, 27, 32, 29]
HIST_TITLE_OFF = [16, 19, 9, 12, 21, 19]
LEAD_CORR, GAP_CORR, MID_CORR = -14, -19, -40


def px(v):
    return round(v * S, 2)


def line_panel(i, side):
    d = SERIES[SAMPLES[i]][side]
    pos = POS_5P if side == "5p" else POS_3P
    recs = []
    for k, g in enumerate(d["grey"]):
        recs += [{"pos": p, "val": v, "s": "grey", "g": k} for p, v in zip(pos, g)]
    for s in ["orange", "green", "purple", "blue", "red"]:
        recs += [{"pos": p, "val": v, "s": s, "g": 0} for p, v in zip(pos, d[s])]
    df = pd.DataFrame(recs)
    xdom = [0.5, 25] if side == "5p" else [-25, -0.5]
    xs = alt.Scale(domain=xdom, nice=False, zero=False)
    ys = alt.Scale(domain=[Y_LO, Y_HI], nice=False, zero=False)
    xaxis = alt.Axis(values=pos, format="d", labelAngle=270, title=None, labelFontSize=px(24),
                     labelPadding=px(12), tickSize=px(22), tickWidth=px(2.5), domainWidth=px(4),
                     offset=px(4), labelOverlap=False, labelFlush=False, grid=False)
    yaxis = alt.Axis(orient="left" if side == "5p" else "right", values=FREQ_TICKS, format=".2f",
                     title="Frequency" if side == "5p" else None, titleFontSize=px(29),
                     titleFontWeight="normal", titlePadding=px(14), labelFontSize=px(29),
                     labelPadding=px(6), tickSize=px(20), tickWidth=px(2.5), domainWidth=px(3),
                     offset=px(18) if side == "5p" else px(23), grid=False, labelFlush=False)
    X = alt.X("pos:Q", scale=xs, axis=xaxis)
    Y = alt.Y("val:Q", scale=ys, axis=yaxis)

    one = pd.DataFrame({"k": [0]})
    edge_x = xdom[0] if side == "5p" else xdom[1]
    frame_h = alt.Chart(one).mark_rule(color=GREY, strokeWidth=px(4)).encode(
        x=alt.X(datum=xdom[0], type="quantitative", scale=xs, axis=xaxis),
        x2=alt.X2(datum=xdom[1]),
        y=alt.Y(datum=0.30, type="quantitative", scale=ys, axis=yaxis))
    frame_b = alt.Chart(one).mark_rule(color=GREY, strokeWidth=px(4)).encode(
        x=alt.X(datum=xdom[0], type="quantitative", scale=xs, axis=xaxis),
        x2=alt.X2(datum=xdom[1]),
        y=alt.Y(datum=Y_LO, type="quantitative", scale=ys, axis=yaxis))
    frame_v = alt.Chart(one).mark_rule(color=GREY, strokeWidth=px(3)).encode(
        x=alt.X(datum=edge_x, type="quantitative", scale=xs, axis=xaxis),
        y=alt.Y(datum=Y_LO, type="quantitative", scale=ys, axis=yaxis),
        y2=alt.Y2(datum=0.30))

    base = alt.Chart(df).encode(x=X, y=Y)
    grey = base.transform_filter(alt.datum.s == "grey").mark_line(
        color=GREY, strokeWidth=px(2.5), clip=True).encode(detail="g:N")
    styles = {"orange": (ORANGE, 3), "green": (GREEN, 3.5), "purple": (PURPLE, 3.5),
              "blue": (BLUE, 6.5), "red": (RED, 6.5)}
    layers = [frame_h, frame_b, frame_v, grey]
    for s in ["orange", "green", "purple", "blue", "red"]:
        c, w = styles[s]
        layers.append(base.transform_filter(alt.datum.s == s).mark_line(
            color=c, strokeWidth=px(w), clip=True, strokeJoin="round"))
    if side == "5p":
        lab = alt.Chart(pd.DataFrame({"name": [SAMPLES[i]]})).mark_text(
            font=FONT, fontSize=px(64), align="center", baseline="alphabetic", color="#2a2a2a").encode(
            text="name:N", x=alt.value(px(LABEL_DX[i])), y=alt.value(px(LABEL_BASE[i])))
        layers.append(lab)
    w = LEFT_W[i] if side == "5p" else RIGHT_W[i]
    return alt.layer(*layers).properties(width=px(w), height=px(LINE_H[i]))


def hist_panel(i):
    start, counts, sp_len, sp_cnt = HIST[SAMPLES[i]]
    lens = [start + k for k in range(len(counts))] + list(sp_len)
    cnts = list(counts) + list(sp_cnt)
    df = pd.DataFrame({"len": lens, "n": cnts})
    xs = alt.Scale(domain=HIST_XDOM[i], nice=False, zero=False)
    ys = alt.Scale(domain=[0, HIST_YTOP[i]], nice=False)
    return alt.Chart(df).mark_rule(color="black", strokeWidth=px(HIST_BAR_W[i]), strokeCap="butt").encode(
        x=alt.X("len:Q", scale=xs, axis=alt.Axis(
            values=HIST_XTICKS[i], labelAngle=270, title="Read length", titleFontSize=px(25),
            titleFontWeight="normal", titlePadding=px(8), labelFontSize=px(19), labelPadding=px(5),
            tickSize=px(14), tickWidth=px(2.5), domainWidth=px(3), offset=px(19), grid=False,
            labelOverlap=False, labelFlush=False)),
        y=alt.Y("n:Q", scale=ys, axis=alt.Axis(
            values=HIST_YTICKS[i], title="Occurences", titleFontSize=px(25), titleFontWeight="normal",
            titlePadding=px(14), labelFontSize=px(21), labelPadding=px(6), tickSize=px(14),
            tickWidth=px(2.5), domainWidth=px(3), offset=px(HIST_YOFF[i]), grid=False, labelFlush=False)),
        y2=alt.Y2(datum=0),
    ).properties(width=px(HIST_W[i]), height=px(HIST_H[i]), title=alt.TitleParams(
        HIST_TITLE, fontSize=px(HIST_TITLE_SIZE[i]), fontWeight="bold", font=FONT, anchor="middle",
        offset=px(HIST_TITLE_OFF[i]), color="black"))


def spacer(w, h):
    return alt.Chart(pd.DataFrame({"a": [0]})).transform_filter("false").mark_point(opacity=0).encode(
        x=alt.value(0), y=alt.value(0)).properties(width=max(w, 1), height=max(h, 1))


cells = []
for i in range(6):
    mid = HIST_LEFT[i] - (LEFT_X[i] + LEFT_W[i] + GAP[i] + RIGHT_W[i])
    cells += [spacer(px(LEFT_X[i] - X0 + LEAD_CORR), px(ROW_STEP[i])), line_panel(i, "5p"),
              spacer(px(GAP[i] + GAP_CORR), 1), line_panel(i, "3p"),
              spacer(px(mid + MID_CORR), 1), hist_panel(i)]

chart = alt.concat(*cells, columns=6, spacing=0, bounds="flush",
                   align={"row": "each", "column": "none"}).properties(
    padding={"left": 13, "top": 15, "right": 10, "bottom": 0}
).configure_view(stroke=None).configure_axis(
    labelFont=FONT, titleFont=FONT, labelColor="black", titleColor="black",
    domainColor="black", tickColor="black", grid=False
).configure_title(font=FONT, color="black")

chart.save("out.html", embed_options={"renderer": "svg", "actions": False})
